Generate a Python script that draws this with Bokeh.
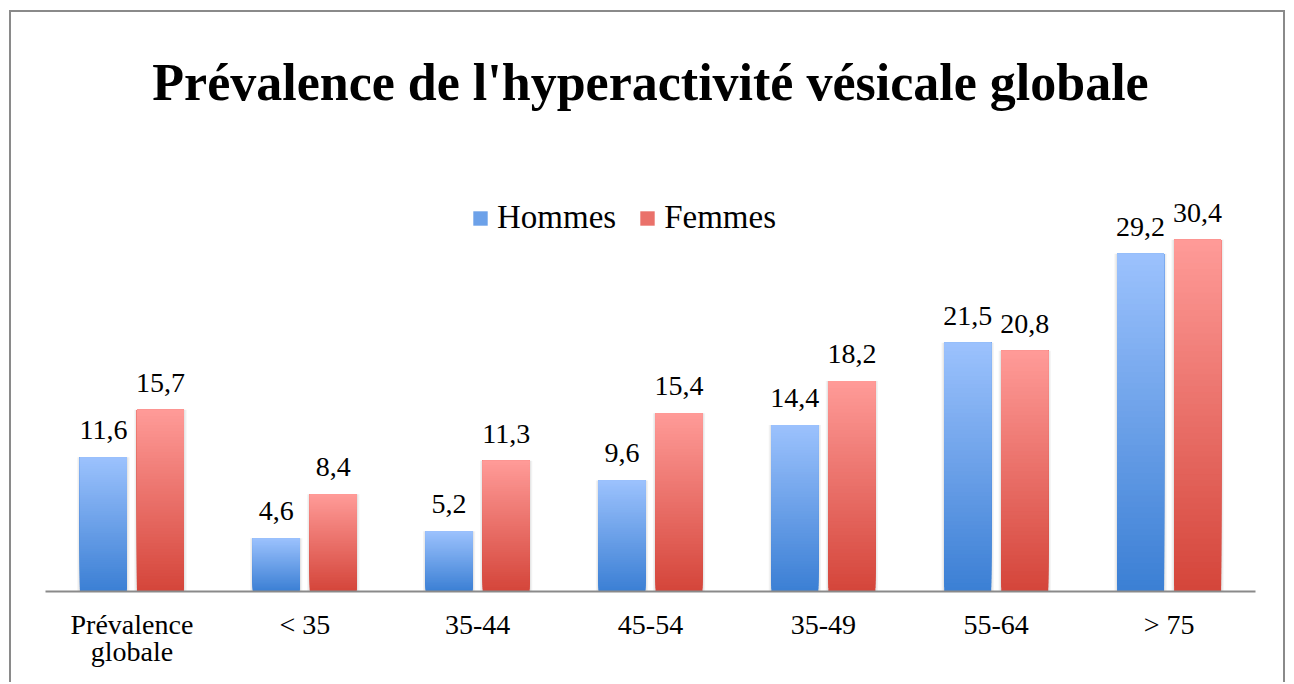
from bokeh.plotting import figure
from bokeh.models import ColumnDataSource, Range1d, Legend, LegendItem
from bokeh.transform import dodge
from bokeh.embed import file_html
from bokeh.resources import INLINE
from bokeh.core.properties import value

# ---- data ----
categories = ["Prévalence\nglobale", "< 35", "35-44", "45-54", "35-49", "55-64", "> 75"]
hommes = [11.6, 4.6, 5.2, 9.6, 14.4, 21.5, 29.2]
femmes = [15.7, 8.4, 11.3, 15.4, 18.2, 20.8, 30.4]
series_names = ["Hommes", "Femmes"]
title_text = "Prévalence de l'hyperactivité vésicale globale"

# ---- style ----
blue_top, blue_bottom = (156, 194, 253), (59, 127, 212)
red_top, red_bottom = (255, 155, 152), (212, 69, 58)
SERIF = "Liberation Serif"
N_SLICES = 60
BAR_W = 0.272
OFF = 0.165
Y_MAX = 41.14


def hexc(c):
    return "#%02x%02x%02x" % tuple(int(round(v)) for v in c)


def gradient_source(vals, top_c, bot_c):
    # each slice runs from its own bottom up to the bar top; later slices
    # are drawn over earlier ones, so there are no seams between them
    xs, bots, tops, cols = [], [], [], []
    for k in range(N_SLICES):
        t = (k + 0.5) / N_SLICES
        col = hexc(tuple(b + (a - b) * t for a, b in zip(top_c, bot_c)))
        for cat, v in zip(categories, vals):
            xs.append(cat)
            bots.append(v * k / N_SLICES)
            tops.append(v)
            cols.append(col)
    return ColumnDataSource(dict(x=xs, bottom=bots, top=tops, color=cols))


p = figure(
    x_range=categories,
    y_range=Range1d(0, Y_MAX),
    width=1276,
    height=672,
    output_backend="svg",
    toolbar_location=None,
    min_border_left=34,
    min_border_right=32,
    min_border_top=103,
    min_border_bottom=93,
)
p.margin = (10, 0, 0, 9)
p.styles = {
    "border-top": "2px solid #8a8a8a",
    "border-left": "2px solid #8a8a8a",
    "border-right": "2px solid #8a8a8a",
}

p.title.text = title_text
p.title.text_font = SERIF
p.title.text_font_style = "bold"
p.title.text_font_size = "52px"
p.title.align = "center"
p.title.standoff = 10
p.title.text_color = "#000000"

p.outline_line_color = None
p.grid.grid_line_color = None
p.yaxis.visible = False

src_h = ColumnDataSource(dict(x=categories, v=hommes,
                              lab=[f"{v:.1f}".replace(".", ",") for v in hommes]))
src_f = ColumnDataSource(dict(x=categories, v=femmes,
                              lab=[f"{v:.1f}".replace(".", ",") for v in femmes]))

renderers = []
for src, off, top_c, bot_c in [(src_h, -OFF, blue_top, blue_bottom),
                               (src_f, OFF, red_top, red_bottom)]:
    # soft shadow
    p.vbar(x=dodge("x", off, range=p.x_range), top="v", bottom=0, width=BAR_W + 0.03,
           source=src, fill_color="#000000", fill_alpha=0.05, line_color=None)
    p.vbar(x=dodge("x", off, range=p.x_range), top="v", bottom=0, width=BAR_W + 0.015,
           source=src, fill_color="#000000", fill_alpha=0.05, line_color=None)
    gs = gradient_source(src.data["v"], top_c, bot_c)
    r = p.vbar(x=dodge("x", off, range=p.x_range), top="top", bottom="bottom",
               width=BAR_W, source=gs, fill_color="color", line_color=None)
    renderers.append(r)
    p.text(x=dodge("x", off, range=p.x_range), y="v", text="lab", source=src,
           text_font=value(SERIF), text_font_size="28px", text_align="center",
           text_baseline="alphabetic", y_offset=-27, text_color="#000000")

mid = (N_SLICES // 2) * len(categories)
legend = Legend(
    items=[LegendItem(label=series_names[0], renderers=[renderers[0]], index=mid),
           LegendItem(label=series_names[1], renderers=[renderers[1]], index=mid)],
    orientation="horizontal",
    location=(426, 355),
    glyph_width=18,
    glyph_height=18,
    label_standoff=8,
    spacing=22,
    padding=0,
    margin=0,
    border_line_color=None,
    background_fill_alpha=0,
    label_text_font=SERIF,
    label_text_font_size="33px",
    label_text_color="#000000",
)
p.add_layout(legend, "center")

ax = p.xaxis[0]
ax.axis_line_color = "#8a8a8a"
ax.axis_line_width = 2
ax.major_tick_line_color = None
ax.minor_tick_line_color = None
ax.major_tick_out = 0
ax.major_tick_in = 0
ax.major_label_standoff = 17
ax.major_label_text_font = SERIF
ax.major_label_text_font_size = "28px"
ax.major_label_text_color = "#000000"
ax.major_label_text_line_height = 0.9

open("out.html", "w").write(file_html(p, INLINE))
